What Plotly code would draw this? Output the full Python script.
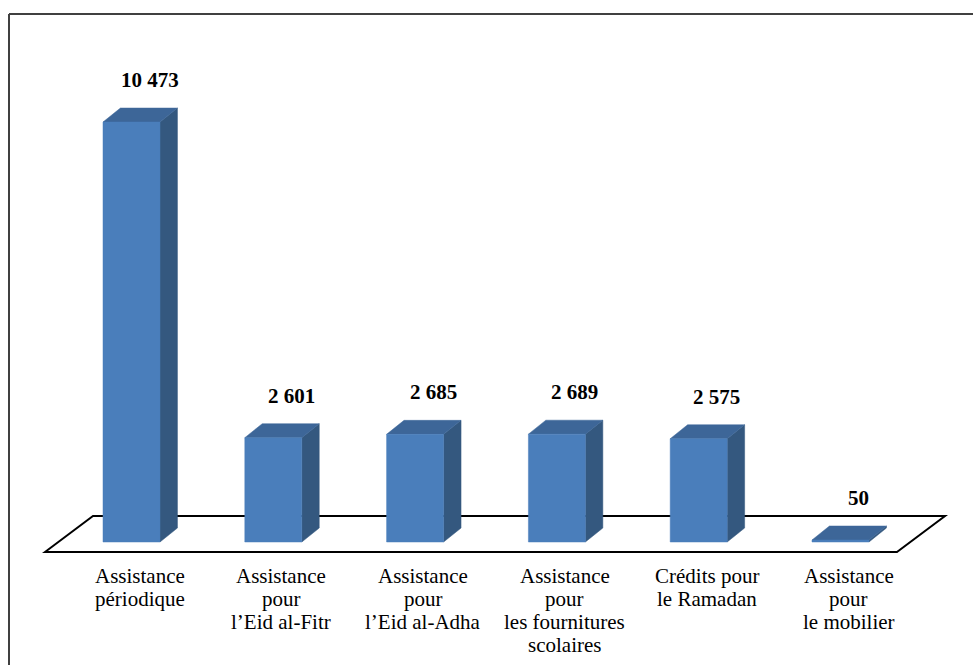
import plotly.graph_objects as go

# ---- data ----
categories = [
    "Assistance<br>périodique",
    "Assistance<br>pour<br>l’Eid al-Fitr",
    "Assistance<br>pour<br>l’Eid al-Adha",
    "Assistance<br>pour<br>les fournitures<br>scolaires",
    "Crédits pour<br>le Ramadan",
    "Assistance<br>pour<br>le mobilier",
]
values = [10473, 2601, 2685, 2689, 2575, 50]
value_labels = ["10 473", "2 601", "2 685", "2 689", "2 575", "50"]

# ---- style / geometry ----
FONT = "'Liberation Serif', 'Times New Roman', serif"
FRONT = "#4A7EBB"
SIDE = "#34587F"
TOP = "#3D6698"
HALF_W = 0.201      # half width of bar front face (category units)
DX = 0.123          # depth offset x (category units)
DY = 349            # depth offset y (value units)

fig = go.Figure()

for i, v in enumerate(values):
    xl, xr = i - HALF_W, i + HALF_W
    # side face
    fig.add_trace(go.Scatter(
        x=[xr, xr + DX, xr + DX, xr, xr], y=[0, DY, v + DY, v, 0],
        fill="toself", fillcolor=SIDE, mode="lines",
        line=dict(color=SIDE, width=0.5), hoverinfo="skip"))
    # top face
    fig.add_trace(go.Scatter(
        x=[xl, xr, xr + DX, xl + DX, xl], y=[v, v, v + DY, v + DY, v],
        fill="toself", fillcolor=TOP, mode="lines",
        line=dict(color=TOP, width=0.5), hoverinfo="skip"))
    # front face
    fig.add_trace(go.Scatter(
        x=[xl, xr, xr, xl, xl], y=[0, 0, v, v, 0],
        fill="toself", fillcolor=FRONT, mode="lines",
        line=dict(color=FRONT, width=0.5), hoverinfo="skip"))

annotations = []
for i, (v, lab) in enumerate(zip(values, value_labels)):
    annotations.append(dict(
        x=i, y=v, xref="x", yref="y", text="<b>" + lab + "</b>",
        showarrow=False, xshift=18, yshift=42, yanchor="middle",
        font=dict(family=FONT, size=21, color="black")))

for i, cat in enumerate(categories):
    for k, line in enumerate(cat.split("<br>")):
        ypix = 576 + 23 * k
        annotations.append(dict(
            x=i, y=1 - ypix / 665, xref="x", yref="paper", text=line,
            showarrow=False, xshift=8, yanchor="middle",
            font=dict(family=FONT, size=21, color="black")))

shapes = [
    # floor
    dict(type="path", xref="x", yref="y", layer="below",
         path="M -0.610 -249 L -0.2715 648 L 5.737 648 L 5.398 -249 Z",
         line=dict(color="black", width=2), fillcolor="white"),
    # frame (top and left)
    dict(type="line", xref="paper", yref="paper", x0=9 / 973, x1=1,
         y0=1 - 14 / 665, y1=1 - 14 / 665, line=dict(color="#404040", width=2)),
    dict(type="line", xref="paper", yref="paper", x0=9 / 973, x1=9 / 973,
         y0=0, y1=1 - 14 / 665, line=dict(color="#404040", width=2)),
]

fig.update_layout(
    width=973, height=665,
    margin=dict(l=0, r=0, t=0, b=0),
    paper_bgcolor="white", plot_bgcolor="white",
    showlegend=False,
    font=dict(family=FONT),
    xaxis=dict(visible=False, range=[-131.5 / 141.8, (973 - 131.5) / 141.8], fixedrange=True),
    yaxis=dict(visible=False, range=[-(665 - 542) / 0.0401, 542 / 0.0401], fixedrange=True),
    annotations=annotations,
    shapes=shapes,
)

fig.write_html("out.html")
